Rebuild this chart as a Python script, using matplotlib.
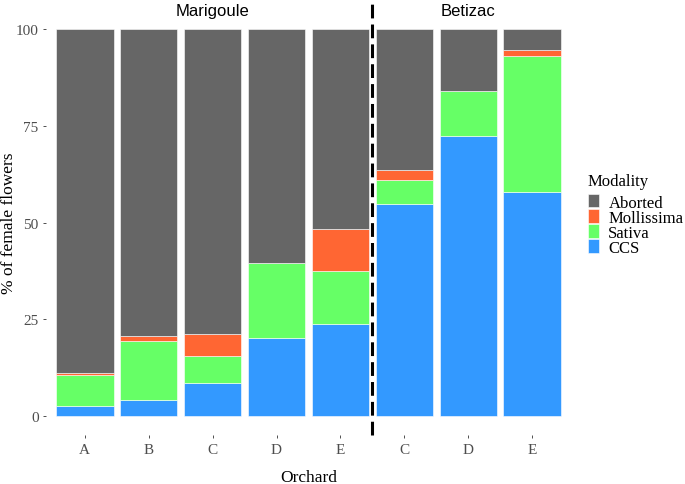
"""
Stacked bars of female flower fate per orchard, Marigoule vs Betizac.
"""

import numpy as np
import matplotlib.pyplot as plt

ORCHARDS = ["A", "B", "C", "D", "E", "C", "D", "E"]
SITES = ["Marigoule", "Betizac"]
MODALITIES = ["Aborted", "Mollissima", "Sativa", "CCS"]

CCS = [2.5, 4.2, 8.6, 20.2, 23.7, 54.9, 72.5, 58.0]
SATIVA = [8.1, 15.1, 6.8, 19.3, 13.9, 6.2, 11.6, 35.1]
MOLLISSIMA = [0.4, 1.5, 5.7, 0.0, 10.8, 2.5, 0.0, 1.6]

COLORS = {
    "Aborted": "#666666",
    "Mollissima": "#FF6633",
    "Sativa": "#66FF66",
    "CCS": "#3399FF",
}


def create_chart() -> None:
    ccs = np.array(CCS)
    sativa = np.array(SATIVA)
    moll = np.array(MOLLISSIMA)
    aborted = 100 - ccs - sativa - moll
    x = np.arange(len(ORCHARDS))

    fig = plt.figure(figsize=(6.85, 4.85), dpi=100)
    ax = fig.add_axes([0.0677, 0.1004, 0.7653, 0.8766])

    bottom = np.zeros(len(x))
    for name, vals in [("CCS", ccs), ("Sativa", sativa),
                       ("Mollissima", moll), ("Aborted", aborted)]:
        ax.bar(x, vals, width=0.9, bottom=bottom, color=COLORS[name],
               edgecolor="white", linewidth=0.4, label=name)
        bottom += vals

    ax.set_xlim(-0.6, len(x) - 0.4)
    ax.set_ylim(-5, 105)
    ax.set_yticks([0, 25, 50, 75, 100])
    ax.set_xticks(x)
    ax.set_xticklabels(ORCHARDS)
    for s in ax.spines.values():
        s.set_visible(False)
    ax.tick_params(colors="#333333", length=2.5, width=0.6, labelsize=11,
                   labelcolor="#4d4d4d", pad=3)
    for lab in ax.get_xticklabels() + ax.get_yticklabels():
        lab.set_family("Liberation Serif")

    ax.set_xlabel("Orchard", family="Liberation Serif", fontsize=12.5)
    ax.set_ylabel("% of female flowers", family="Liberation Serif",
                  fontsize=12.5)
    ax.xaxis.set_label_coords(0.5, -0.08)
    ax.yaxis.set_label_coords(-0.056, 0.5)

    ax.axvline(4.5, ymin=0.0, ymax=1.03, color="black",
               linestyle=(0, (4.5, 2)), linewidth=2.2, clip_on=False)

    ax.text(2, 104.8, SITES[0], ha="center", va="center", fontsize=12,
            family="Liberation Sans")
    ax.text(6, 104.8, SITES[1], ha="center", va="center", fontsize=12,
            family="Liberation Sans")

    handles, labels = ax.get_legend_handles_labels()
    order = [labels.index(m) for m in MODALITIES]
    leg = ax.legend([handles[i] for i in order], [labels[i] for i in order],
                    title="Modality", loc="center left",
                    bbox_to_anchor=(1.01, 0.52), frameon=False,
                    prop={"family": "Liberation Serif", "size": 12},
                    handlelength=0.7, handleheight=0.85, handletextpad=0.55,
                    labelspacing=-0.08, borderaxespad=0.3)
    leg.get_title().set_family("Liberation Serif")
    leg.get_title().set_fontsize(12)
    leg._legend_box.align = "left"
    leg._legend_box.sep = 4

    fig.savefig("out.png", dpi=100)


if __name__ == "__main__":
    create_chart()
